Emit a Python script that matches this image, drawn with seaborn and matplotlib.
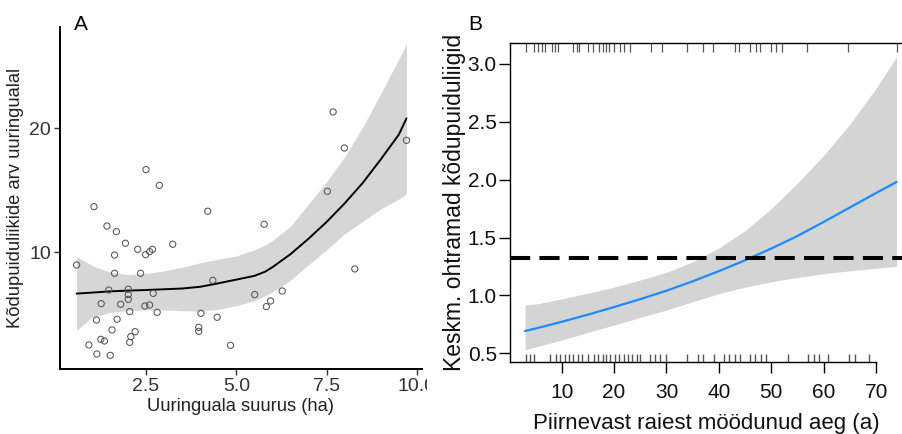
import numpy as np
import pandas as pd
import matplotlib
matplotlib.use("Agg")
import matplotlib.pyplot as plt
from matplotlib.transforms import Bbox, TransformedBbox
import seaborn as sns

# ---------------- Panel A: study area size vs. number of deadwood species
area_ha = [0.58, 1.06, 1.42, 1.68, 1.63, 1.63, 1.93, 2.27, 2.50, 2.87, 2.49, 2.60,
           2.68, 3.24, 2.35, 1.47, 2.01, 2.01, 2.01, 2.70, 1.26, 1.80, 2.05, 2.47,
           2.60, 2.81, 1.13, 1.70, 1.56, 2.20, 2.08, 2.05, 1.25, 1.35, 0.92, 1.14,
           1.51, 4.21, 4.35, 4.02, 4.47, 3.96, 3.96, 4.84, 5.77, 5.51, 5.83, 5.95,
           6.27, 7.68, 7.99, 7.52, 8.28, 9.71]
species_n = [8.98, 13.68, 12.12, 11.67, 9.78, 8.31, 10.73, 10.24, 16.67, 15.40, 9.81, 10.05,
             10.24, 10.65, 8.31, 6.96, 7.02, 6.59, 6.21, 6.69, 5.86, 5.81, 5.22, 5.67,
             5.75, 5.16, 4.54, 4.60, 3.74, 3.60, 3.20, 2.74, 2.98, 2.85, 2.53, 1.80,
             1.69, 13.31, 7.74, 5.08, 4.76, 3.95, 3.63, 2.50, 12.26, 6.59, 5.62, 6.08,
             6.88, 21.32, 18.41, 14.92, 8.66, 19.03]

smooth_x = [0.58, 1.0, 1.5, 2.0, 2.5, 3.0, 3.5, 4.0, 4.5, 5.0, 5.5, 5.8, 6.0, 6.5,
            7.0, 7.5, 8.0, 8.5, 9.0, 9.5, 9.71]
smooth_fit = [6.67, 6.75, 6.85, 6.91, 6.96, 7.02, 7.08, 7.22, 7.50, 7.80, 8.10, 8.44,
              8.80, 9.85, 11.1, 12.45, 13.95, 15.6, 17.5, 19.5, 20.8]
smooth_hi = [9.65, 8.95, 8.40, 8.20, 8.30, 8.50, 8.80, 9.15, 9.45, 9.70, 10.2, 10.6,
             10.95, 12.1, 13.9, 15.7, 17.7, 20.1, 22.8, 25.6, 26.8]
smooth_lo = [3.70, 4.75, 5.15, 5.30, 5.35, 5.35, 5.30, 5.25, 5.40, 5.70, 6.10, 6.50,
             6.80, 7.75, 9.0, 10.2, 11.5, 12.5, 13.5, 14.3, 14.7]

# ---------------- Panel B: time since adjacent cutting vs. abundant species
age_x = [3, 5, 10, 15, 20, 25, 30, 35, 40, 45, 50, 55, 60, 65, 70, 73.9]
age_fit = [0.693, 0.714, 0.772, 0.834, 0.900, 0.968, 1.041, 1.122, 1.210, 1.304,
           1.405, 1.514, 1.635, 1.760, 1.885, 1.980]
age_hi = [0.918, 0.925, 0.970, 1.02, 1.072, 1.133, 1.20, 1.29, 1.41, 1.56,
          1.75, 1.97, 2.21, 2.48, 2.79, 3.06]
age_lo = [0.529, 0.555, 0.615, 0.68, 0.745, 0.81, 0.874, 0.945, 1.015, 1.072,
          1.118, 1.156, 1.188, 1.213, 1.235, 1.25]
reference_level = 1.32

rug_top = [3.1, 4.8, 5.5, 6.3, 6.9, 8.1, 8.7, 9.2, 12.2, 12.9, 13.3, 15.0, 15.9,
           17.2, 17.8, 18.5, 19.1, 20.0, 21.1, 21.8, 23.0, 27.0, 29.1, 34.0, 37.0,
           38.8, 43.1, 43.9, 45.9, 47.1, 47.8, 49.9, 50.9, 52.0, 56.8, 64.7, 74.0]
rug_bottom = [3.1, 4.0, 4.8, 7.8, 9.0, 9.7, 10.6, 11.4, 12.2, 13.1, 13.9, 15.0,
              16.2, 17.0, 17.8, 18.5, 19.2, 20.2, 20.9, 21.8, 22.6, 23.5, 24.3, 24.9,
              26.9, 27.8, 28.8, 30.0, 33.9, 36.1, 36.9, 39.1, 41.0, 42.0, 43.1, 44.0,
              45.9, 46.9, 48.0, 49.0, 53.1, 57.1, 58.2, 59.1, 60.9, 64.8, 65.9, 68.7]

sns.set_theme(style="white")
plt.rcParams["font.family"] = ["Liberation Sans", "DejaVu Sans"]

W, H = 903, 434
fig = plt.figure(figsize=(W / 100, H / 100), dpi=100)

# ---------- Panel A
axA = fig.add_axes([60 / W, (H - 369) / H, 362 / W, 342 / H])
dfA = pd.DataFrame({"x": area_ha, "y": species_n})
smA = pd.DataFrame({"x": smooth_x, "fit": smooth_fit, "lo": smooth_lo, "hi": smooth_hi})

axA.fill_between(smA["x"], smA["lo"], smA["hi"], color="#d6d6d6", lw=0, zorder=1)
sns.scatterplot(data=dfA, x="x", y="y", ax=axA, marker="o", s=20,
                fc="none", ec="#555555", linewidth=0.75, zorder=3)
sns.lineplot(data=smA, x="x", y="fit", ax=axA, color="black", lw=1.4,
             sort=False, zorder=2)

axA.set_xlim(0.12, 10.14)
axA.set_ylim(0.59, 28.17)
axA.set_xticks([2.5, 5.0, 7.5, 10.0])
axA.set_xticklabels(["2.5", "5.0", "7.5", "10.0"])
axA.set_yticks([10, 20])
axA.set_yticklabels(["10", "20"])
for s in ["top", "right"]:
    axA.spines[s].set_visible(False)
for s in ["left", "bottom"]:
    axA.spines[s].set_color("black")
    axA.spines[s].set_linewidth(1.4)
axA.tick_params(axis="both", which="major", length=4, width=1.0, color="#333333",
                labelsize=14, labelcolor="#333333", pad=2.5,
                bottom=True, left=True)
axA.set_xlabel("Uuringuala suurus (ha)", fontsize=13.2, color="#222222", labelpad=2)
axA.set_ylabel("Kõdupuiduliikide arv uuringualal", fontsize=13.2, color="#222222",
               labelpad=4)
fig.text(74 / W, 1 - 24 / H, "A", fontsize=15, ha="left", va="center", color="black")

# ---------- Panel B
axB = fig.add_axes([510 / W, (H - 362) / H, 393 / W, 319 / H])
smB = pd.DataFrame({"x": age_x, "fit": age_fit, "lo": age_lo, "hi": age_hi})

axB.fill_between(smB["x"], smB["lo"], smB["hi"], color="#d4d4d4", lw=0, zorder=1)
sns.lineplot(data=smB, x="x", y="fit", ax=axB, color="#1a8cff", lw=1.6,
             sort=False, zorder=3)
axB.axhline(reference_level, color="black", lw=2.9, dashes=(5, 2.3), zorder=4)
sns.rugplot(x=rug_bottom, ax=axB, height=8 / 319, color="#555555", lw=0.9,
            expand_margins=False)
axB.vlines(rug_top, 1 - 9 / 319, 1, transform=axB.get_xaxis_transform(),
           color="#555555", lw=0.9)

axB.set_xlim(0.13, 75.14)
axB.set_ylim(0.425, 3.181)
axB.set_xticks([10, 20, 30, 40, 50, 60, 70])
axB.set_yticks([0.5, 1.0, 1.5, 2.0, 2.5, 3.0])
axB.set_yticklabels(["0.5", "1.0", "1.5", "2.0", "2.5", "3.0"])
axB.spines["right"].set_visible(False)
for s in ["left", "bottom", "top"]:
    axB.spines[s].set_color("black")
    axB.spines[s].set_linewidth(1.0)
axB.spines["bottom"].set_bounds(0.13, 70)
axB.tick_params(axis="both", which="major", length=8, width=1.0, color="black",
                labelsize=15, labelcolor="#111111", bottom=True, left=True)
axB.tick_params(axis="x", pad=7)
axB.tick_params(axis="y", pad=1.5)
axB.set_xlabel("Piirnevast raiest möödunud aeg (a)", fontsize=16, color="#111111",
               labelpad=8)
axB.set_ylabel("Keskm. ohtramad kõdupuiduliigid", fontsize=16.5, color="#111111",
               labelpad=1)
fig.text(468 / W, 1 - 25 / H, "B", fontsize=15, ha="left", va="center", color="black")

# Panel A's last x tick label is cut at the panel border
clip = TransformedBbox(Bbox([[0, 0], [427 / W, 1]]), fig.transFigure)
for tick in axA.xaxis.get_major_ticks():
    tick.label1.set_clip_box(clip)
    tick.label1.set_clip_on(True)

fig.savefig("out.png", dpi=100, facecolor="white")
